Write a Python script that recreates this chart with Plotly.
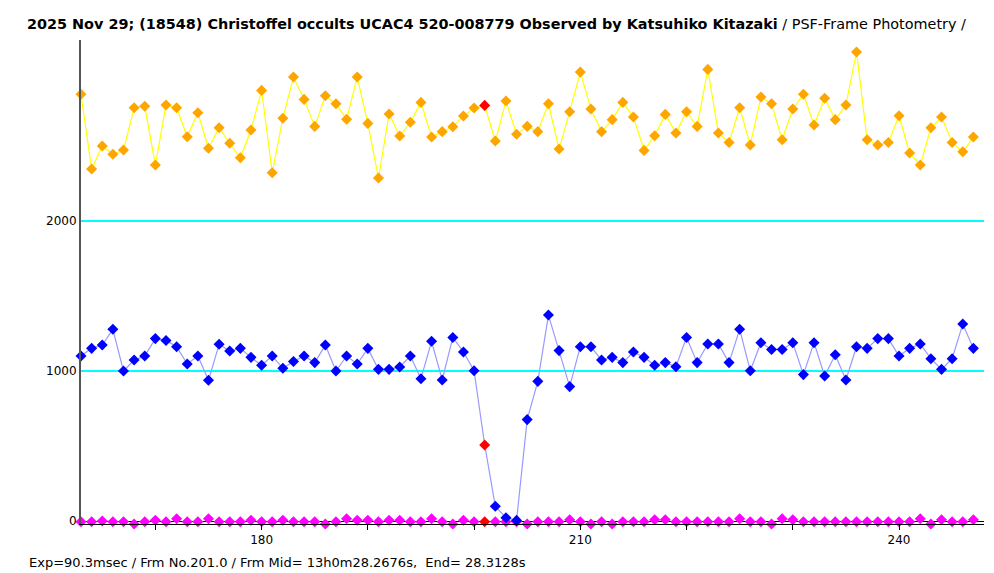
import plotly.graph_objects as go

frames = list(range(163, 248))

target_vals = [
    2845, 2347, 2500, 2445, 2473, 2755, 2765, 2373, 2773, 2755,
    2562, 2722, 2485, 2622, 2518, 2422, 2607, 2871, 2322, 2685,
    2960, 2811, 2631, 2835, 2782, 2678, 2960, 2651, 2287, 2713,
    2567, 2658, 2791, 2560, 2596, 2629, 2700, 2753, 2771, 2533,
    2800, 2578, 2631, 2596, 2782, 2480, 2729, 2993, 2747, 2596,
    2676, 2791, 2693, 2471, 2569, 2711, 2587, 2729, 2631, 3011,
    2587, 2524, 2755, 2507, 2827, 2782, 2542, 2747, 2845, 2640,
    2818, 2676, 2773, 3127, 2542, 2507, 2524, 2702, 2453, 2373,
    2622, 2693, 2524, 2462, 2560,
]

comp_vals = [
    1100, 1151, 1173, 1278, 1000, 1073, 1100, 1216, 1204, 1162,
    1047, 1100, 938, 1178, 1133, 1151, 1091, 1038, 1100, 1018,
    1064, 1100, 1056, 1173, 1000, 1100, 1047, 1151, 1011, 1011,
    1027, 1100, 949, 1198, 940, 1224, 1127, 1002, 507, 98,
    22, 4, 676, 931, 1373, 1136, 896, 1162, 1162, 1073,
    1091, 1056, 1127, 1091, 1038, 1056, 1029, 1224, 1056, 1180,
    1180, 1056, 1278, 1002, 1189, 1144, 1144, 1189, 976, 1189,
    967, 1109, 940, 1162, 1151, 1216, 1216, 1100, 1151, 1180,
    1082, 1011, 1082, 1313, 1151,
]

sky_vals = [
    -5, -5, 0, -5, -5, -20, -5, 5, -5, 15,
    -5, -5, 15, -5, -5, -5, 5, -5, -5, 5,
    -5, -5, -5, -20, -5, 15, 5, 5, -5, 5,
    5, -5, -5, 15, -5, -20, 5, -5, -5, -5,
    -5, -5, -20, -5, -5, -5, 8, -5, -20, -5,
    -20, -5, -5, -5, 8, 8, -5, -5, -5, -5,
    -5, -5, 15, -5, -5, -20, 15, 8, -5, -5,
    -5, -5, -5, -5, -5, -5, -5, -5, -5, 15,
    -20, 8, -5, -5, 8,
]

event_frame = 201
x_ticks = list(range(170, 250, 10))
x_labels = ["180" if t == 180 else "210" if t == 210 else "240" if t == 240 else "" for t in x_ticks]
y_ticks = [0, 1000, 2000]
y_labels = ["0", "1000", "2000"]

title_bold = "2025 Nov 29; (18548) Christoffel occults UCAC4 520-008779 Observed by Katsuhiko Kitazaki"
title_rest = " / PSF-Frame Photometry /"
footer = "Exp=90.3msec / Frm No.201.0 / Frm Mid= 13h0m28.2676s,  End= 28.3128s"

FONT = "DejaVu Sans"
OFF = 8  # page body offset
W, H = 994 - OFF, 573 - OFF

def colors(base):
    return ["#FF0000" if f == event_frame else base for f in frames]

fig = go.Figure()
fig.add_trace(go.Scatter(
    x=frames, y=sky_vals, mode="markers",
    marker=dict(symbol="diamond", size=8.5, color=colors("#FF00FF")),
    cliponaxis=False, showlegend=False))
fig.add_trace(go.Scatter(
    x=frames, y=target_vals, mode="lines+markers",
    line=dict(color="#FFFF00", width=1.2),
    marker=dict(symbol="diamond", size=8.5, color=colors("#FFA500")),
    cliponaxis=False, showlegend=False))
fig.add_trace(go.Scatter(
    x=frames, y=comp_vals, mode="lines+markers",
    line=dict(color="#9999FF", width=1.2),
    marker=dict(symbol="diamond", size=8.5, color=colors("#0000FF")),
    cliponaxis=False, showlegend=False))

fig.update_layout(
    width=W, height=H,
    margin=dict(l=81 - OFF, r=10, t=40 - OFF, b=49),
    paper_bgcolor="white", plot_bgcolor="white",
    font=dict(family=FONT, size=12, color="black"),
    title=dict(
        text="<b>" + title_bold + "</b>" + title_rest,
        x=(27 - OFF) / W, xanchor="left", xref="container",
        y=1 - (24 - OFF) / H, yanchor="middle", yref="container",
        font=dict(family=FONT, size=14.4, color="black")),
    xaxis=dict(
        range=[163, 248], tickmode="array", tickvals=x_ticks, ticktext=x_labels,
        ticks="outside", ticklen=5, tickcolor="black", showgrid=False,
        showline=True, linecolor="black", linewidth=1, zeroline=False,
        tickfont=dict(family=FONT, size=12, color="black")),
    yaxis=dict(
        range=[-20, 3207], tickmode="array", tickvals=y_ticks, ticktext=y_labels,
        ticks="", showgrid=True, gridcolor="#00FFFF", gridwidth=1.5,
        showline=True, linecolor="#555555", linewidth=2,
        zeroline=True, zerolinecolor="black", zerolinewidth=1,
        tickfont=dict(family=FONT, size=12, color="black")),
    annotations=[dict(
        text=footer, xref="paper", yref="paper",
        x=(27 - 81) / 903, y=(524 - 562) / 484, xanchor="left", yanchor="middle",
        showarrow=False, font=dict(family=FONT, size=13, color="black"))],
)

fig.write_html("out.html")
